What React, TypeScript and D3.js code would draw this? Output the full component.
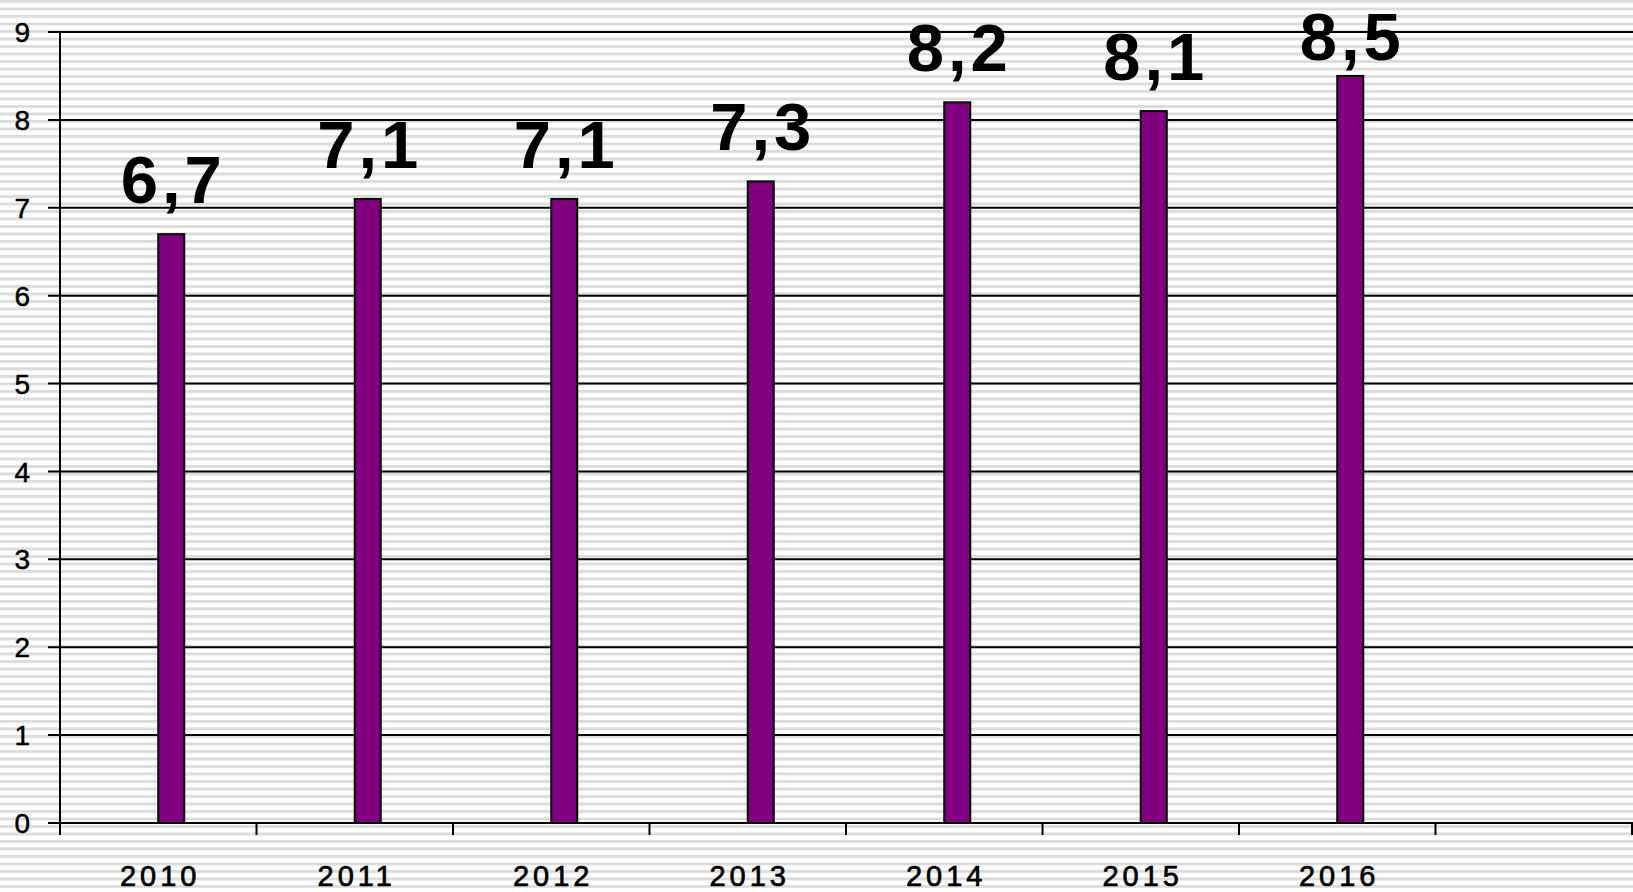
import React, { useEffect, useRef } from 'react';
import * as d3 from 'd3';

const years = ['2010', '2011', '2012', '2013', '2014', '2015', '2016', ''];
const values = [6.7, 7.1, 7.1, 7.3, 8.2, 8.1, 8.5];
const yTicks = [0, 1, 2, 3, 4, 5, 6, 7, 8, 9];

const W = 1633;
const H = 892;

const App: React.FC = () => {
  const svgRef = useRef<SVGSVGElement>(null);

  useEffect(() => {
    if (!svgRef.current) return;
    const svg = d3.select(svgRef.current);
    svg.selectAll('*').remove();

    const left = 60;
    const right = 1632;
    const top = 32;
    const bottom = 823;
    const font = '"Liberation Sans", Arial, sans-serif';

    // striped background
    const defs = svg.append('defs');
    const pat = defs.append('pattern')
      .attr('id', 'stripes')
      .attr('patternUnits', 'userSpaceOnUse')
      .attr('width', 8)
      .attr('height', 7.5);
    pat.append('rect').attr('width', 8).attr('height', 7.5).attr('fill', '#ffffff');
    pat.append('rect').attr('width', 8).attr('height', 3).attr('fill', '#dcdcdc');
    svg.append('rect').attr('width', W).attr('height', H).attr('fill', 'url(#stripes)');

    const x = d3.scaleBand<string>().domain(years.map((d, i) => d || `_${i}`)).range([left, right]);
    const y = d3.scaleLinear().domain([0, 9]).range([bottom, top]);
    const keys = x.domain();
    const barW = 26;
    const barShift = 13; // bar sits right of category centre (empty second series slot)

    // gridlines + y ticks
    svg.append('g')
      .selectAll('line')
      .data(yTicks)
      .join('line')
      .attr('x1', left - 12)
      .attr('x2', W)
      .attr('y1', d => y(d))
      .attr('y2', d => y(d))
      .attr('stroke', '#000')
      .attr('stroke-width', 2);

    svg.append('g')
      .selectAll('text')
      .data(yTicks)
      .join('text')
      .attr('x', 30)
      .attr('y', d => y(d))
      .attr('dy', '0.36em')
      .attr('text-anchor', 'end')
      .attr('font-family', font)
      .attr('font-size', 28)
      .attr('fill', '#000')
      .attr('stroke', '#000')
      .attr('stroke-width', 0.5)
      .text(d => String(d));

    // y axis line
    svg.append('line')
      .attr('x1', left).attr('x2', left)
      .attr('y1', top).attr('y2', bottom)
      .attr('stroke', '#000').attr('stroke-width', 2);

    // x ticks
    const tickXs = keys.map(k => x(k)!).concat([right]);
    svg.append('g')
      .selectAll('line')
      .data(tickXs)
      .join('line')
      .attr('x1', d => d).attr('x2', d => d)
      .attr('y1', bottom).attr('y2', bottom + 12)
      .attr('stroke', '#000').attr('stroke-width', 2);

    // bars
    svg.append('g')
      .selectAll('rect')
      .data(values)
      .join('rect')
      .attr('x', (d, i) => x(keys[i])! + x.bandwidth() / 2 + barShift - barW / 2)
      .attr('y', d => y(d))
      .attr('width', barW)
      .attr('height', d => bottom - y(d))
      .attr('fill', '#800080')
      .attr('stroke', '#000')
      .attr('stroke-width', 2);

    // value labels
    svg.append('g')
      .selectAll('text')
      .data(values)
      .join('text')
      .attr('x', (d, i) => x(keys[i])! + x.bandwidth() / 2 + barShift + 2)
      .attr('y', d => Math.max(y(d) - 31, 60))
      .attr('text-anchor', 'middle')
      .attr('font-family', font)
      .attr('font-weight', 'bold')
      .attr('font-size', 67)
      .attr('letter-spacing', 4)
      .attr('fill', '#000')
      .text(d => d.toFixed(1).replace('.', ','));

    // x axis line
    svg.append('line')
      .attr('x1', left).attr('x2', W)
      .attr('y1', bottom).attr('y2', bottom)
      .attr('stroke', '#000').attr('stroke-width', 2);

    // year labels
    svg.append('g')
      .selectAll('text')
      .data(years)
      .join('text')
      .attr('x', (d, i) => x(keys[i])! + x.bandwidth() / 2 + 2)
      .attr('y', 886)
      .attr('text-anchor', 'middle')
      .attr('font-family', font)
      .attr('font-size', 29)
      .attr('letter-spacing', 4)
      .attr('fill', '#000')
      .attr('stroke', '#000')
      .attr('stroke-width', 0.7)
      .text(d => d);
  }, []);

  return (
    <div style={{ position: 'absolute', left: 0, top: 0 }}>
      <svg ref={svgRef} width={W} height={H} style={{ display: 'block' }} />
    </div>
  );
};

export default App;
